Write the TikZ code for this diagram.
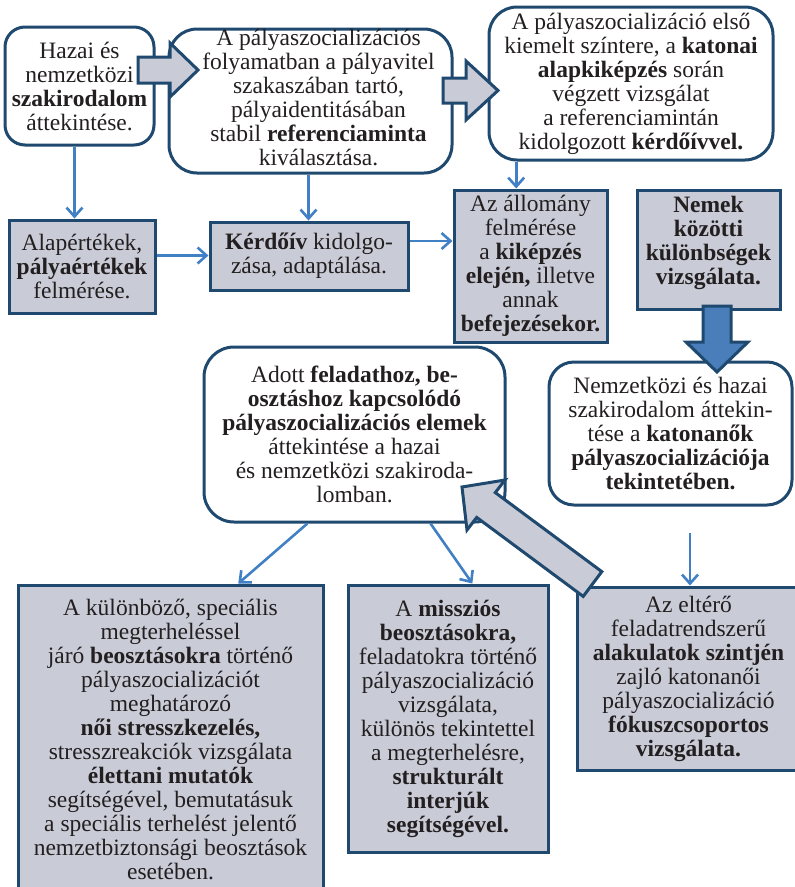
\documentclass[tikz,border=0pt]{standalone}
\usepackage{fontspec}
\setmainfont{Liberation Serif}
\usetikzlibrary{arrows.meta,calc}

\definecolor{navy}{RGB}{31,73,110}
\definecolor{boxgray}{RGB}{201,203,214}
\definecolor{linkblue}{RGB}{65,128,196}
\definecolor{downblue}{RGB}{74,126,187}
\definecolor{ink}{RGB}{35,31,32}

\tikzset{
  base/.style={draw=navy, line width=3pt, align=center, inner sep=0pt,
    font=\fontsize{23.5pt}{24pt}\selectfont, text=ink},
  roundbox/.style={base, fill=white, rounded corners=#1},
  graybox/.style={base, fill=boxgray},
  link/.style={draw=linkblue, line width=2.6pt,
    -{Straight Barb[length=9pt,width=16pt]}},
  blockarrow/.style={draw=navy, line width=3pt, line join=miter, fill=boxgray},
}

\begin{document}
\begin{tikzpicture}[x=1pt,y=-1pt]
\useasboundingbox (0,0) rectangle (795,887);
\clip (0,0) rectangle (795,887);

% top row: literature, reference sample, basic training
\node[roundbox=20pt, minimum width=149pt, minimum height=118pt] (lit) at (79.5,86)
  {Hazai és\\nemzetközi\\\textbf{szakirodalom}\\áttekintése.};
\node[roundbox=28pt, minimum width=283pt, minimum height=144pt] (ref) at (310.5,101)
  {\begin{tabular}{@{\hspace{16pt}}c@{}}A pályaszocializációs\\folyamatban a pályavitel\\szakaszában tartó,\\pályaidentitásában\\stabil \textbf{referenciaminta}\\kiválasztása.\end{tabular}};
\node[roundbox=28pt, minimum width=284pt, minimum height=153pt] (first) at (631,83.5)
  {A pályaszocializáció első\\kiemelt színtere, a \textbf{katonai}\\\textbf{alapkiképzés} során\\végzett vizsgálat\\a referenciamintán\\kidolgozott \textbf{kérdőívvel.}};

% second row
\node[graybox, minimum width=146pt, minimum height=93pt] (alap) at (82,266.5)
  {Alapértékek,\\\textbf{pályaértékek}\\felmérése.};
\node[graybox, minimum width=198pt, minimum height=68pt] (kerd) at (309,256)
  {\textbf{Kérdőív} kidolgo-\\zása, adaptálása.};
\node[graybox, minimum width=153pt, minimum height=152pt] (allo) at (530.5,266)
  {Az állomány\\felmérése\\a \textbf{kiképzés}\\\textbf{elején,} illetve\\annak\\\textbf{befejezésekor.}};
\node[graybox, minimum width=143pt, minimum height=119pt, font=\fontsize{23.5pt}{24pt}\selectfont\bfseries] (nemek) at (708.5,249.5)
  {\begin{tabular}{@{}c@{}}Nemek\\közötti\\különbségek\\vizsgálata.\\[11pt]\end{tabular}};

% third row
\node[roundbox=25pt, minimum width=243pt, minimum height=143pt] (nk) at (670.5,433.5)
  {Nemzetközi és hazai\\szakirodalom áttekin-\\tése a \textbf{katonanők}\\\textbf{pályaszocializációja}\\\textbf{tekintetében.}};
\node[roundbox=30pt, minimum width=301pt, minimum height=175pt] (adott) at (354.5,434.5)
  {Adott \textbf{feladathoz, be-}\\\textbf{osztáshoz kapcsolódó}\\\textbf{pályaszocializációs elemek}\\áttekintése a hazai\\és nemzetközi szakiroda-\\lomban.};

% bottom row
\node[graybox, minimum width=305pt, minimum height=309pt] (kul) at (170.5,739.5)
  {A különböző, speciális\\megterheléssel\\járó \textbf{beosztásokra} történő\\pályaszocializációt\\meghatározó\\\textbf{női stresszkezelés,}\\stresszreakciók vizsgálata\\\textbf{élettani mutatók}\\segítségével, bemutatásuk\\a speciális terhelést jelentő\\nemzetbiztonsági beosztások\\esetében.};
\node[graybox, minimum width=200pt, minimum height=267pt] (miss) at (448,718.5)
  {A \textbf{missziós}\\\textbf{beosztásokra,}\\feladatokra történő\\pályaszocializáció\\vizsgálata,\\különös tekintettel\\a megterhelésre,\\\textbf{strukturált}\\\textbf{interjúk}\\\textbf{segítségével.}};
\node[graybox, minimum width=223pt, minimum height=183pt] (elt) at (688.5,678.5)
  {Az eltérő\\feladatrendszerű\\\textbf{alakulatok szintjén}\\zajló katonanői\\pályaszocializáció\\\textbf{fókuszcsoportos}\\\textbf{vizsgálata.}};

% block arrows
\draw[blockarrow] (138,57) -- (170,57) -- (170,43) -- (198,70) -- (170,97) -- (170,83) -- (138,83) -- cycle;
\draw[blockarrow] (443,78) -- (466,78) -- (466,61) -- (498,90.5) -- (466,120) -- (466,103) -- (443,103) -- cycle;
\draw[blockarrow, fill=downblue] (703,306) -- (731,306) -- (731,342) -- (748,342) -- (717,372) -- (686,342) -- (703,342) -- cycle;
\draw[blockarrow] (462,487) -- (505,480) -- (495.3,492.6) -- (601.8,571.6) -- (583.2,596.4) -- (476.7,517.4) -- (467,530) -- cycle;

% thin connectors
\draw[link] ([xshift=-5pt]lit.south) -- ([xshift=-5pt]lit.south |- alap.north);
\draw[link] ([xshift=-2pt]ref.south) -- ([xshift=-2pt]ref.south |- kerd.north);
\coordinate (firstfoot) at ($(first.south west)!0.1!(first.south east)$);
\draw[link] (firstfoot) -- (firstfoot |- allo.north);
\draw[link] ([yshift=11pt]alap.east) -- ([yshift=11pt]alap.east -| kerd.west);
\draw[link] ([yshift=15pt]kerd.east) -- ([yshift=15pt]kerd.east -| allo.west);
\draw[link] ($(adott.south west)!0.345!(adott.south east)$) -- ($(kul.north west)!0.72!(kul.north east)$);
\draw[link] ($(adott.south west)!0.75!(adott.south east)$) -- ($(miss.north west)!0.62!(miss.north east)$);
\coordinate (nkfoot) at (690,533);
\draw[link] (nkfoot) -- (nkfoot |- elt.north);
\end{tikzpicture}
\end{document}
